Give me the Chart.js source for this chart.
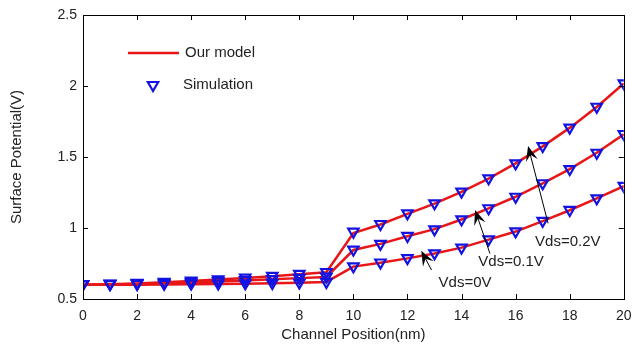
<!DOCTYPE html>
<html>
<head>
<meta charset="utf-8">
<script src="https://cdn.jsdelivr.net/npm/chart.js@4"></script>
<style>
  body { margin: 0; background: #fff; }
  canvas { display: block; }
</style>
</head>
<body>
<canvas id="potentialChart" width="632" height="349"></canvas>
<script>
// channel positions (nm)
const positions = [0, 1, 2, 3, 4, 5, 6, 7, 8, 9, 10, 11, 12, 13, 14, 15, 16, 17, 18, 19, 20];

// model curves (red lines)
const modelVds0  = [0.600, 0.600, 0.601, 0.602, 0.604, 0.606, 0.608, 0.611, 0.615, 0.620,
                    0.728, 0.756, 0.786, 0.820, 0.862, 0.918, 0.975, 1.048, 1.125, 1.208, 1.295];
const modelVds01 = [0.600, 0.602, 0.606, 0.611, 0.617, 0.624, 0.631, 0.639, 0.647, 0.655,
                    0.845, 0.888, 0.942, 0.992, 1.060, 1.138, 1.220, 1.315, 1.415, 1.530, 1.660];
const modelVds02 = [0.600, 0.604, 0.610, 0.618, 0.627, 0.637, 0.648, 0.660, 0.674, 0.688,
                    0.965, 1.025, 1.100, 1.172, 1.255, 1.348, 1.455, 1.575, 1.705, 1.852, 2.018];

// simulation points (blue triangles)
const simVds0  = [0.605, 0.605, 0.606, 0.607, 0.608, 0.609, 0.611, 0.613, 0.616, 0.620,
                  0.730, 0.757, 0.788, 0.822, 0.862, 0.920, 0.976, 1.050, 1.127, 1.209, 1.296];
const simVds01 = [0.605, 0.607, 0.610, 0.614, 0.619, 0.626, 0.633, 0.641, 0.649, 0.657,
                  0.848, 0.888, 0.944, 0.990, 1.061, 1.139, 1.220, 1.315, 1.415, 1.530, 1.662];
const simVds02 = [0.605, 0.608, 0.613, 0.620, 0.629, 0.639, 0.650, 0.663, 0.677, 0.690,
                  0.974, 1.028, 1.103, 1.174, 1.256, 1.350, 1.455, 1.577, 1.707, 1.854, 2.019];

// axis ticks
const xTicks = [0, 2, 4, 6, 8, 10, 12, 14, 16, 18, 20];
const yTicks = [0.5, 1, 1.5, 2, 2.5];

// annotations (data coordinates)
const noteTexts  = ['Vds=0.2V', 'Vds=0.1V', 'Vds=0V'];
const noteX      = [16.72, 14.62, 13.15];
const noteY      = [0.90, 0.76, 0.613];
const arrowTailX = [17.2, 15.05, 12.89];
const arrowTailY = [1.033, 0.82, 0.704];
const arrowTipX  = [16.46, 14.5, 12.51];
const arrowTipY  = [1.577, 1.127, 0.84];

const RED = 'rgb(232, 22, 22)';
const BLUE = 'rgb(18, 18, 225)';
const FONT = '"Liberation Sans", Arial, sans-serif';

function toPoints(values) {
    return values.map((v, i) => ({ x: positions[i], y: v }));
}

function modelSet(values) {
    return {
        data: toPoints(values),
        borderColor: RED,
        borderWidth: 2.5,
        pointRadius: 0,
        tension: 0,
        fill: false,
        order: 2
    };
}

function simSet(values) {
    return {
        data: toPoints(values),
        showLine: false,
        pointStyle: 'triangle',
        rotation: 180,
        pointRadius: 6,
        pointBorderWidth: 2.2,
        pointBorderColor: BLUE,
        pointBackgroundColor: 'rgba(0,0,0,0)',
        borderColor: BLUE,
        order: 1
    };
}

const framePlugin = {
    id: 'frame',
    afterDraw(chart) {
        const ctx = chart.ctx;
        const a = chart.chartArea;
        const xs = chart.scales.x;
        const ys = chart.scales.y;
        const tl = 5;

        ctx.save();
        ctx.strokeStyle = '#000';
        ctx.lineWidth = 1;
        ctx.strokeRect(Math.round(a.left) + 0.5, Math.round(a.top) + 0.5,
                       Math.round(a.right - a.left), Math.round(a.bottom - a.top));

        // inward ticks on all sides
        ctx.beginPath();
        xTicks.forEach(t => {
            const px = Math.round(xs.getPixelForValue(t)) + 0.5;
            ctx.moveTo(px, a.bottom); ctx.lineTo(px, a.bottom - tl);
            ctx.moveTo(px, a.top); ctx.lineTo(px, a.top + tl);
        });
        yTicks.forEach(t => {
            const py = Math.round(ys.getPixelForValue(t)) + 0.5;
            ctx.moveTo(a.left, py); ctx.lineTo(a.left + tl, py);
            ctx.moveTo(a.right, py); ctx.lineTo(a.right - tl, py);
        });
        ctx.stroke();

        // legend
        const lx = a.left + 45;
        const ly1 = a.top + 38;
        const ly2 = a.top + 70;
        ctx.strokeStyle = RED;
        ctx.lineWidth = 2.5;
        ctx.beginPath();
        ctx.moveTo(lx, ly1); ctx.lineTo(lx + 51, ly1);
        ctx.stroke();
        ctx.strokeStyle = BLUE;
        ctx.lineWidth = 2.2;
        const tx = lx + 25, r = 6;
        ctx.beginPath();
        ctx.moveTo(tx, ly2 + r);
        ctx.lineTo(tx - r * 0.866, ly2 - r * 0.5);
        ctx.lineTo(tx + r * 0.866, ly2 - r * 0.5);
        ctx.closePath();
        ctx.stroke();
        ctx.fillStyle = '#222';
        ctx.font = '15px ' + FONT;
        ctx.textBaseline = 'middle';
        ctx.textAlign = 'left';
        ctx.fillText('Our model', lx + 57, ly1);
        ctx.fillText('Simulation', lx + 55, ly2);

        // arrows and labels
        noteTexts.forEach((txt, i) => {
            const x0 = xs.getPixelForValue(arrowTailX[i]);
            const y0 = ys.getPixelForValue(arrowTailY[i]);
            const x1 = xs.getPixelForValue(arrowTipX[i]);
            const y1 = ys.getPixelForValue(arrowTipY[i]);
            const ang = Math.atan2(y1 - y0, x1 - x0);
            const c = Math.cos(ang), s = Math.sin(ang);
            const hl = 15, hw = 6;
            ctx.strokeStyle = '#000';
            ctx.fillStyle = '#000';
            ctx.lineWidth = 1;
            ctx.beginPath();
            ctx.moveTo(x0, y0);
            ctx.lineTo(x1 - c * hl * 0.6, y1 - s * hl * 0.6);
            ctx.stroke();
            ctx.beginPath();
            ctx.moveTo(x1, y1);
            ctx.lineTo(x1 - c * hl - s * hw, y1 - s * hl + c * hw);
            ctx.lineTo(x1 - c * hl * 0.6, y1 - s * hl * 0.6);
            ctx.lineTo(x1 - c * hl + s * hw, y1 - s * hl - c * hw);
            ctx.closePath();
            ctx.fill();

            ctx.fillStyle = '#222';
            ctx.font = '15px ' + FONT;
            ctx.fillText(txt, xs.getPixelForValue(noteX[i]), ys.getPixelForValue(noteY[i]));
        });
        ctx.restore();
    }
};

new Chart(document.getElementById('potentialChart'), {
    type: 'line',
    data: {
        datasets: [
            modelSet(modelVds0), modelSet(modelVds01), modelSet(modelVds02),
            simSet(simVds0), simSet(simVds01), simSet(simVds02)
        ]
    },
    options: {
        responsive: false,
        devicePixelRatio: 1,
        animation: false,
        layout: { padding: { top: 15, right: 6, left: 0, bottom: 0 } },
        plugins: {
            legend: { display: false },
            tooltip: { enabled: false }
        },
        scales: {
            x: {
                type: 'linear',
                min: 0,
                max: 20,
                afterFit: scale => {
                    scale.height = 50;
                    scale.paddingLeft = 0;
                    scale.paddingRight = 0;
                },
                afterBuildTicks: scale => { scale.ticks = xTicks.map(v => ({ value: v })); },
                grid: { display: false, drawTicks: false },
                border: { display: false },
                ticks: {
                    color: '#222',
                    padding: 9,
                    maxRotation: 0,
                    font: { family: FONT, size: 14 }
                },
                title: {
                    display: true,
                    text: 'Channel Position(nm)',
                    color: '#222',
                    padding: { top: 0, bottom: 5 },
                    font: { family: FONT, size: 15 }
                }
            },
            y: {
                min: 0.5,
                max: 2.5,
                afterFit: scale => { scale.width = 83; },
                afterBuildTicks: scale => { scale.ticks = yTicks.map(v => ({ value: v })); },
                grid: { display: false, drawTicks: false },
                border: { display: false },
                ticks: {
                    color: '#222',
                    padding: 6,
                    font: { family: FONT, size: 14 },
                    callback: v => String(v)
                },
                title: {
                    display: true,
                    text: 'Surface Potential(V)',
                    color: '#222',
                    padding: { top: 8, bottom: 0 },
                    font: { family: FONT, size: 15 }
                }
            }
        }
    },
    plugins: [framePlugin]
});
</script>
</body>
</html>
